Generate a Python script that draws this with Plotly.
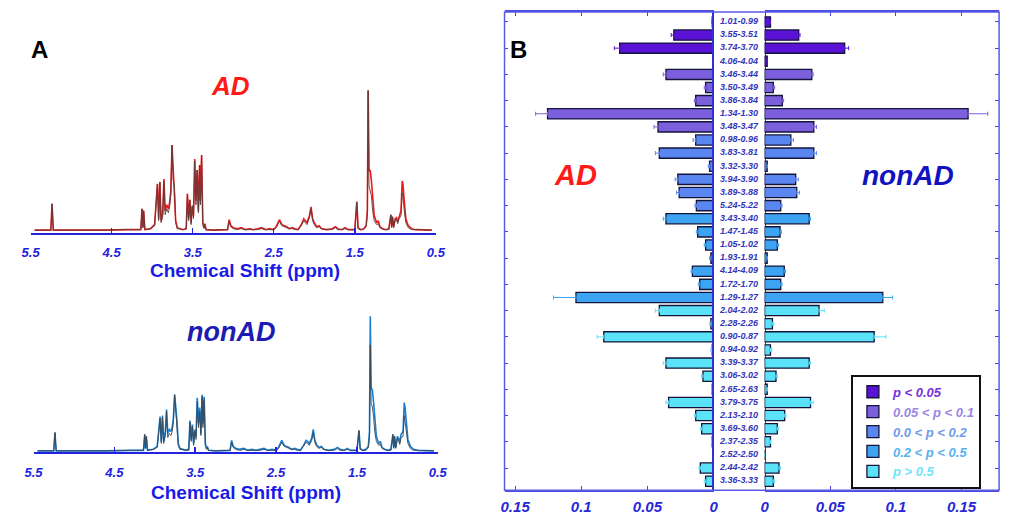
import plotly.graph_objects as go

W, H = 1014, 515
FONT = "Liberation Sans"

# ---------------- Panel A: 1H NMR spectra ----------------
spec_ppm = [5.45, 5.30, 5.25, 5.235, 5.22, 4.60, 4.45, 4.30, 4.14, 4.125,
            4.115, 4.105, 4.09, 4.02, 3.97, 3.935, 3.92, 3.905, 3.89, 3.87,
            3.855, 3.84, 3.82, 3.80, 3.785, 3.77, 3.755, 3.74, 3.725, 3.71,
            3.69, 3.62, 3.58, 3.565, 3.55, 3.535, 3.52, 3.505, 3.49, 3.475,
            3.46, 3.445, 3.43, 3.415, 3.405, 3.39, 3.375, 3.36, 3.35, 3.335,
            3.25, 3.07, 3.05, 3.03, 3.00, 2.95, 2.90, 2.85, 2.80, 2.75,
            2.70, 2.65, 2.60, 2.55, 2.50, 2.47, 2.43, 2.40, 2.37, 2.34,
            2.31, 2.27, 2.24, 2.20, 2.16, 2.13, 2.11, 2.09, 2.06, 2.04,
            2.02, 2.00, 1.97, 1.94, 1.91, 1.85, 1.78, 1.74, 1.71, 1.66,
            1.62, 1.58, 1.50, 1.475, 1.46, 1.43, 1.39, 1.36, 1.345, 1.335,
            1.325, 1.31, 1.295, 1.28, 1.26, 1.23, 1.21, 1.19, 1.16, 1.12,
            1.08, 1.055, 1.045, 1.035, 1.02, 1.00, 0.985, 0.97, 0.955, 0.93,
            0.915, 0.905, 0.89, 0.87, 0.84, 0.80, 0.75, 0.65, 0.55]

ad_red = [0.5, 1, 0.5, 27, 0.5, 0.5, 1, 1, 1, 22,
          3, 20, 1, 2, 6, 47, 12, 49, 10, 18,
          52, 20, 26, 22, 28, 40, 86, 60, 46, 10,
          3, 1, 2, 37, 12, 31, 8, 25, 15, 72,
          30, 61, 20, 66, 30, 76, 8, 3, 7, 1,
          0.5, 1, 11, 5, 3, 2, 3, 1, 2, 1,
          2, 3, 1, 2, 1, 4, 11, 6, 5, 4,
          2, 3, 2, 1, 6, 12, 10, 8, 15, 24,
          12, 8, 4, 5, 2, 1, 2, 4, 2, 1,
          3, 1, 1, 29, 3, 1, 2, 5, 20, 141,
          60, 61, 50, 30, 15, 8, 10, 4, 2, 1,
          2, 16, 4, 14, 4, 12, 13, 9, 14, 20,
          50, 46, 30, 12, 5, 2, 1, 0.5, 0.5]

ad_dark = [0.5, 1, 0.5, 27, 0.5, 0.5, 1, 1, 1, 22,
           3, 20, 1, 2, 5, 47, 10, 49, 8, 14,
           50, 16, 22, 18, 24, 36, 86, 50, 46, 8,
           2, 1, 2, 37, 10, 31, 6, 25, 12, 70,
           26, 61, 18, 66, 26, 76, 6, 2, 6, 1,
           0.5, 1, 9, 4, 2, 1, 2, 1, 1, 1,
           1, 2, 1, 1, 1, 3, 9, 5, 4, 3,
           2, 2, 1, 1, 5, 10, 8, 6, 13, 22,
           10, 6, 3, 4, 2, 1, 1, 3, 1, 1,
           2, 1, 1, 29, 2, 1, 1, 4, 16, 141,
           45, 40, 35, 20, 10, 6, 7, 3, 2, 1,
           1, 16, 3, 14, 3, 12, 11, 7, 12, 15,
           38, 34, 20, 8, 3, 1, 1, 0.5, 0.5]

non_blue = [0.5, 1, 0.5, 19, 0.5, 0.5, 1, 1, 1, 17,
            3, 15, 1, 2, 5, 35, 10, 36, 10, 20,
            42, 18, 22, 20, 24, 34, 57, 45, 30, 8,
            3, 1, 2, 31, 12, 27, 8, 22, 15, 54,
            28, 44, 18, 57, 28, 55, 8, 3, 5, 1,
            0.5, 1, 11, 5, 3, 2, 3, 1, 2, 1,
            2, 3, 1, 2, 1, 4, 11, 6, 5, 4,
            2, 3, 2, 1, 6, 11, 10, 8, 13, 22,
            11, 7, 4, 5, 2, 1, 2, 4, 2, 1,
            3, 1, 1, 21, 3, 1, 2, 5, 20, 136,
            64, 62, 50, 30, 15, 8, 10, 4, 2, 1,
            2, 17, 4, 15, 4, 15, 13, 9, 17, 20,
            49, 44, 30, 12, 5, 2, 1, 0.5, 0.5]

non_dark = [0.5, 1, 0.5, 19, 0.5, 0.5, 1, 1, 1, 17,
            3, 15, 1, 2, 4, 33, 8, 34, 8, 16,
            40, 14, 18, 16, 20, 30, 57, 38, 28, 6,
            2, 1, 1, 29, 10, 25, 6, 20, 12, 50,
            24, 40, 16, 55, 24, 52, 6, 2, 4, 1,
            0.5, 1, 9, 4, 2, 1, 2, 1, 1, 1,
            1, 2, 1, 1, 1, 3, 9, 5, 4, 3,
            2, 2, 1, 1, 5, 9, 8, 6, 11, 19,
            9, 5, 3, 4, 2, 1, 1, 3, 1, 1,
            2, 1, 1, 21, 2, 1, 1, 4, 14, 107,
            48, 45, 35, 20, 10, 6, 7, 3, 2, 1,
            1, 17, 3, 15, 3, 13, 11, 7, 14, 15,
            36, 30, 20, 8, 3, 1, 1, 0.5, 0.5]

shift_ticks = [5.5, 4.5, 3.5, 2.5, 1.5, 0.5]
shift_tick_text = ["5.5", "4.5", "3.5", "2.5", "1.5", "0.5"]

# ---------------- Panel B: bucket intensities ----------------
buckets = ["1.01-0.99", "3.55-3.51", "3.74-3.70", "4.06-4.04", "3.46-3.44", "3.50-3.49",
           "3.86-3.84", "1.34-1.30", "3.48-3.47", "0.98-0.96", "3.83-3.81", "3.32-3.30",
           "3.94-3.90", "3.89-3.88", "5.24-5.22", "3.43-3.40", "1.47-1.45", "1.05-1.02",
           "1.93-1.91", "4.14-4.09", "1.72-1.70", "1.29-1.27", "2.04-2.02", "2.28-2.26",
           "0.90-0.87", "0.94-0.92", "3.39-3.37", "3.06-3.02", "2.65-2.63", "3.79-3.75",
           "2.13-2.10", "3.69-3.60", "2.37-2.35", "2.52-2.50", "2.44-2.42", "3.36-3.33"]

p_group = [0, 0, 0, 0, 1, 1, 1, 1, 1, 2, 2, 2, 2, 2, 2, 3, 3, 3,
           3, 3, 3, 3, 4, 4, 4, 4, 4, 4, 4, 4, 4, 4, 4, 4, 4, 4]

ad_vals = [0.001, 0.030, 0.071, 0.0, 0.036, 0.006, 0.0135, 0.1255, 0.042,
           0.0135, 0.041, 0.003, 0.027, 0.026, 0.013, 0.036, 0.012, 0.006,
           0.002, 0.016, 0.0105, 0.104, 0.041, 0.002, 0.083, 0.001, 0.036,
           0.008, 0.001, 0.034, 0.0135, 0.009, 0.001, 0.0, 0.010, 0.006]
ad_err = [0, 0.002, 0.004, 0, 0.002, 0.001, 0.001, 0.009, 0.003,
          0.002, 0.003, 0.001, 0.002, 0.002, 0.001, 0.002, 0.001, 0.001,
          0.001, 0.001, 0.001, 0.017, 0.003, 0.001, 0.005, 0.001, 0.002,
          0.001, 0, 0.002, 0.001, 0.001, 0, 0, 0.001, 0.001]

non_vals = [0.0045, 0.026, 0.061, 0.002, 0.036, 0.0067, 0.0135, 0.155, 0.0375,
            0.020, 0.0375, 0.002, 0.0237, 0.0245, 0.0123, 0.034, 0.0118, 0.0097,
            0.002, 0.015, 0.0123, 0.090, 0.0415, 0.006, 0.0835, 0.0045, 0.034,
            0.0087, 0.002, 0.035, 0.0153, 0.0097, 0.0045, 0.0, 0.011, 0.0067]
non_err = [0, 0.001, 0.003, 0, 0.001, 0.001, 0.001, 0.015, 0.002,
           0.002, 0.002, 0, 0.002, 0.002, 0.001, 0.001, 0.001, 0.001,
           0, 0.001, 0.001, 0.0075, 0.004, 0.001, 0.009, 0.001, 0.001,
           0.001, 0, 0.002, 0.001, 0.001, 0, 0, 0.001, 0.001]

group_names = ["p &lt; 0.05", "0.05 &lt; p &lt; 0.1", "0.0 &lt; p &lt; 0.2",
               "0.2 &lt; p &lt; 0.5", "p &gt; 0.5"]
group_colors = ["#5a12d6", "#7b5fdc", "#5a86f2", "#3ca4f2", "#5ae2f8"]
group_text_colors = ["#7a30d8", "#9b85e6", "#6f9cec", "#58b2f2", "#6ee4f6"]
bar_ticks = [0, 0.05, 0.1, 0.15]
bar_tick_text = ["0", "0.05", "0.1", "0.15"]


def px(x):
    return x / W


def py(y):
    return 1 - y / H


fig = go.Figure()

BLUE_AX = "#2222e0"

# Panel A traces
fig.add_trace(go.Scatter(x=spec_ppm, y=ad_red, mode="lines",
                         line=dict(color="#ee1c1c", width=1.6),
                         xaxis="x", yaxis="y", showlegend=False, hoverinfo="skip"))
fig.add_trace(go.Scatter(x=spec_ppm, y=ad_dark, mode="lines",
                         line=dict(color="#5a3c3c", width=0.9),
                         xaxis="x", yaxis="y", showlegend=False, hoverinfo="skip"))
fig.add_trace(go.Scatter(x=spec_ppm, y=non_blue, mode="lines",
                         line=dict(color="#1a7fd0", width=1.6),
                         xaxis="x2", yaxis="y2", showlegend=False, hoverinfo="skip"))
fig.add_trace(go.Scatter(x=spec_ppm, y=non_dark, mode="lines",
                         line=dict(color="#3c4650", width=0.9),
                         xaxis="x2", yaxis="y2", showlegend=False, hoverinfo="skip"))

# Panel B bars
for g in range(5):
    idx = [i for i, gg in enumerate(p_group) if gg == g]
    cats = [buckets[i] for i in idx]
    fig.add_trace(go.Bar(
        orientation="h", y=cats, x=[ad_vals[i] for i in idx],
        marker=dict(color=group_colors[g], line=dict(color="#14143a", width=1.3)),
        error_x=dict(type="data", symmetric=False, array=[ad_err[i] for i in idx],
                     arrayminus=[0 for _ in idx], color=group_colors[g], thickness=1, width=2),
        width=0.78, xaxis="x3", yaxis="y3", showlegend=False, hoverinfo="skip"))
    fig.add_trace(go.Bar(
        orientation="h", y=cats, x=[non_vals[i] for i in idx],
        name="<span style='color:%s'>%s</span>" % (group_text_colors[g], group_names[g]),
        marker=dict(color=group_colors[g], line=dict(color="#14143a", width=1.3)),
        error_x=dict(type="data", symmetric=False, array=[non_err[i] for i in idx],
                     arrayminus=[0 for _ in idx], color=group_colors[g], thickness=1, width=2),
        width=0.78, xaxis="x5", yaxis="y5", showlegend=True, hoverinfo="skip"))

# bucket labels in the middle column
fig.add_trace(go.Scatter(
    x=[0 for _ in buckets], y=buckets, mode="text", text=buckets,
    textfont=dict(family=FONT, size=9, color="#3434b8", weight="bold", style="italic"),
    xaxis="x4", yaxis="y4", showlegend=False, hoverinfo="skip"))

tickfontA = dict(family=FONT, size=13, color=BLUE_AX, weight="bold", style="italic")
tickfontB = dict(family=FONT, size=15, color="#2828d8", weight="bold", style="italic")

yB_range = [35.68, -0.76]
B_top, B_bot = 12, 493
catB = dict(type="category", categoryorder="array", categoryarray=buckets,
            range=yB_range, domain=[py(B_bot), py(B_top)], showgrid=False,
            zeroline=False, fixedrange=True)

fig.update_layout(
    width=W, height=H, margin=dict(l=0, r=0, t=0, b=0),
    paper_bgcolor="white", plot_bgcolor="rgba(0,0,0,0)",
    font=dict(family=FONT),
    barmode="overlay",
    xaxis=dict(domain=[px(22), px(435)], range=[5.5, 0.5], anchor="y",
               tickvals=shift_ticks, ticktext=shift_tick_text,
               tickfont=tickfontA, ticks="inside", ticklen=5, tickcolor=BLUE_AX, tickwidth=1.5,
               showline=True, linecolor=BLUE_AX, linewidth=2, showgrid=False, zeroline=False,
               ticklabelstandoff=7),
    yaxis=dict(domain=[py(234), py(80)], range=[-2, 152], visible=False, anchor="x"),
    xaxis2=dict(domain=[px(25), px(437)], range=[5.5, 0.5], anchor="y2",
                tickvals=shift_ticks, ticktext=shift_tick_text,
                tickfont=tickfontA, ticks="inside", ticklen=5, tickcolor=BLUE_AX, tickwidth=1.5,
                showline=True, linecolor=BLUE_AX, linewidth=2, showgrid=False, zeroline=False,
                ticklabelstandoff=7),
    yaxis2=dict(domain=[py(455), py(305)], range=[-1, 149], visible=False, anchor="x2"),
    xaxis3=dict(domain=[px(505), px(718)], range=[0.158, 0], anchor="y3",
                tickvals=bar_ticks, ticktext=bar_tick_text, tickfont=tickfontB,
                ticks="inside", ticklen=4, tickcolor="#4444e0", mirror="ticks",
                showline=True, linecolor="#4a4ae4", linewidth=1.5, showgrid=False,
                zeroline=False, ticklabelstandoff=2),
    yaxis3=dict(anchor="x3", showticklabels=False, ticks="inside", ticklen=3,
                tickcolor="#4444e0", side="left", showline=False, **catB),
    xaxis4=dict(domain=[px(718), px(770)], range=[-1, 1], anchor="y4", visible=False),
    yaxis4=dict(anchor="x4", showticklabels=False, ticks="", showline=True, mirror=True,
                linecolor="#3030d4", linewidth=1.5, **catB),
    xaxis5=dict(domain=[px(770), px(1009)], range=[0, 0.1786], anchor="y5",
                tickvals=bar_ticks, ticktext=bar_tick_text, tickfont=tickfontB,
                ticks="inside", ticklen=4, tickcolor="#4444e0", mirror="ticks",
                showline=True, linecolor="#4a4ae4", linewidth=1.5, showgrid=False,
                zeroline=False, ticklabelstandoff=2),
    yaxis5=dict(anchor="x5", showticklabels=False, ticks="inside", ticklen=4,
                tickcolor="#4444e0", side="right", showline=False, **catB),
    legend=dict(x=px(858), y=py(377), xanchor="left", yanchor="top",
                bgcolor="white", bordercolor="#111111", borderwidth=2,
                font=dict(family=FONT, size=13, weight="bold", style="italic"),
                traceorder="normal", itemwidth=30, tracegroupgap=0),
    shapes=[dict(type="rect", xref="paper", yref="paper",
                 x0=px(505), x1=px(1009), y0=py(B_bot), y1=py(B_top),
                 line=dict(color="#5a5ae6", width=1.5), layer="above")],
)

ann = [
    dict(text="A", x=px(31), y=py(50), size=24, color="black", italic=False),
    dict(text="B", x=px(519), y=py(50), size=24, color="black", italic=False),
    dict(text="AD", x=px(226), y=py(87), size=26, color="#ff1a1a", italic=True),
    dict(text="nonAD", x=px(226), y=py(334), size=27, color="#1c1cb4", italic=True),
    dict(text="AD", x=px(577), y=py(176), size=29, color="#ff1a1a", italic=True),
    dict(text="nonAD", x=px(916), y=py(177), size=28, color="#1212c0", italic=True),
    dict(text="Chemical Shift (ppm)", x=px(240), y=py(272), size=19, color="#1a1ae6", italic=False),
    dict(text="Chemical Shift (ppm)", x=px(242), y=py(495), size=19, color="#1a1ae6", italic=False),
]
for a in ann:
    fig.add_annotation(text=a["text"], x=a["x"], y=a["y"], xref="paper", yref="paper",
                       xanchor="center", yanchor="middle", showarrow=False,
                       font=dict(family=FONT, size=a["size"], color=a["color"], weight="bold",
                                 style="italic" if a["italic"] else "normal"))

fig.write_html("out.html", config={"displayModeBar": False, "staticPlot": True},
               post_script="document.body.style.margin='0';document.body.style.overflow='hidden';")
